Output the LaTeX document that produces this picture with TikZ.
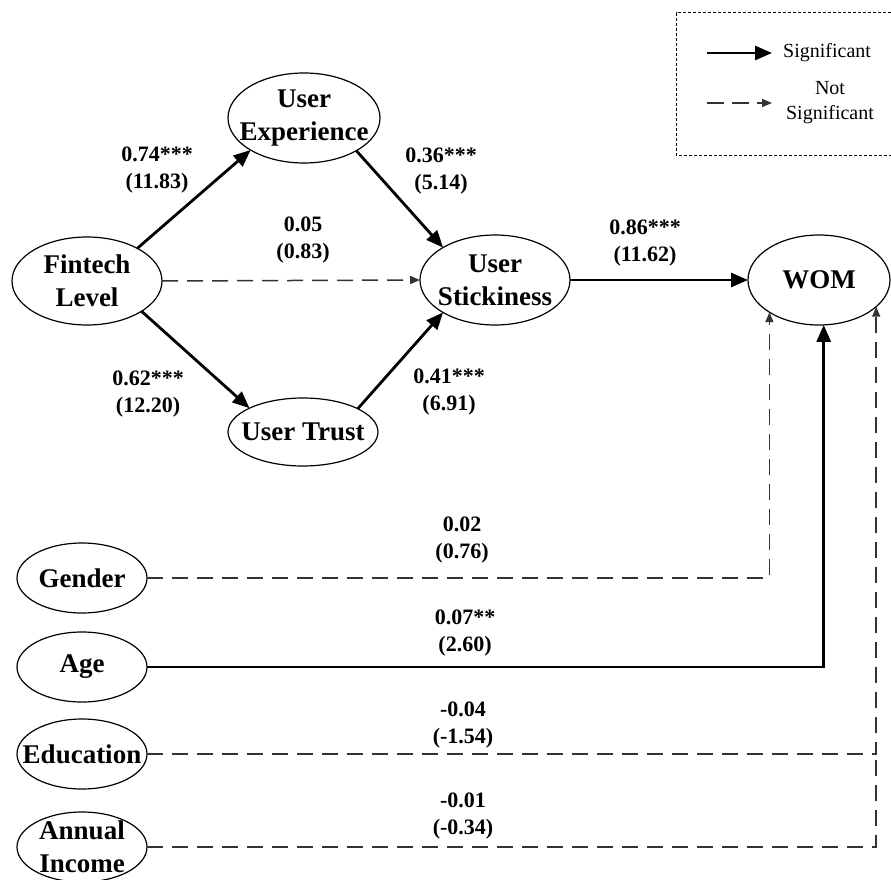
\documentclass[tikz,border=0pt]{standalone}
\usepackage{fontspec}
\setmainfont{Liberation Serif}
\usetikzlibrary{arrows.meta,shapes.geometric}
\begin{document}
\begin{tikzpicture}[x=1pt,y=-1pt,
  var/.style={ellipse, draw=black, line width=1.2pt, inner sep=0pt, outer sep=0pt},
  vtext/.style={font=\fontsize{27}{33}\selectfont\bfseries, align=center, inner sep=0pt},
  coef/.style={font=\fontsize{22}{26.5}\selectfont\bfseries, align=center, inner sep=0pt},
  legtext/.style={font=\fontsize{20}{25}\selectfont, align=center, inner sep=0pt},
  sig/.style={line width=2.8pt, -{Triangle[length=17pt,width=14pt]}},
  nsig/.style={line width=1.5pt, draw=black!80, dash pattern=on 16pt off 9pt, -{Triangle[length=10pt,width=8pt]}},
  nsigline/.style={line width=1.5pt, draw=black!80, dash pattern=on 16pt off 9pt},
  legbox/.style={line width=1pt, dash pattern=on 3pt off 2pt}
]
\useasboundingbox (0,0) rectangle (891,880);

% legend
\draw[legbox] (891,13) -- (676,13) -- (676,155) -- (891,155);
\coordinate (ls1) at (707,53);
\coordinate (le1) at (772,53);
\coordinate (ls2) at (707,103);
\coordinate (le2) at (772,103);
\draw[sig] (ls1) -- (le1);
\draw[nsig, dash pattern=on 17pt off 8pt] (ls2) -- (le2);
\node[legtext, anchor=west] (lsig) at (783,53) {Significant};
\node[legtext] (lnsig) at (830,103) {Not\\Significant};

% main nodes
\node[var, minimum width=150pt, minimum height=88pt,
      label={[vtext]center:{Fintech\\Level}}] (fin) at (87,281) {};
\node[var, minimum width=152pt, minimum height=90pt,
      label={[vtext]center:{User\\Experience}}] (ux) at (304,118) {};
\node[var, minimum width=150pt, minimum height=68pt,
      label={[vtext]center:{User Trust}}] (trust) at (303,432) {};
\node[var, minimum width=150pt, minimum height=90pt,
      label={[vtext]center:{User\\Stickiness}}] (stick) at (495,280) {};
\node[var, minimum width=142pt, minimum height=90pt,
      label={[vtext]center:{WOM}}] (wom) at (819,280) {};

\node[var, minimum width=130pt, minimum height=70pt,
      label={[vtext]center:{Gender}}] (gender) at (82,578) {};
\node[var, minimum width=130pt, minimum height=70pt,
      label={[vtext]center:{Age}}] (age) at (82,667) {};
\node[var, minimum width=130pt, minimum height=70pt,
      label={[vtext]center:{Education}}] (edu) at (82,754) {};
\node[var, minimum width=130pt, minimum height=70pt,
      label={[vtext]center:{Annual\\Income}}] (inc) at (82,847) {};

% structural paths
\draw[sig] (fin.33) -- (ux.211);
\draw[sig] (ux.328) -- (stick.148);
\draw[sig] (fin.331) -- (trust.156);
\draw[sig] (trust.23) -- (stick.212);
\draw[nsig] (fin.east) -- (stick.west);
\draw[sig] (stick.east) -- (wom.west);

% control variables
\draw[nsig] (gender.east) -| (wom.213.6);
\draw[sig] (age.east) -| (wom.276.4);
\draw[nsig] (edu.east) -| (wom.335.9);
\coordinate (join) at (wom.335.9 |- edu.east);
\draw[nsigline] (inc.east) -| (join);

% coefficients
\node[coef] (c1) at (157,170) {0.74***\\(11.83)};
\node[coef] (c2) at (303,240) {0.05\\(0.83)};
\node[coef] (c3) at (148,394) {0.62***\\(12.20)};
\node[coef] (c4) at (441,171) {0.36***\\(5.14)};
\node[coef] (c5) at (449,392) {0.41***\\(6.91)};
\node[coef] (c6) at (645,243) {0.86***\\(11.62)};
\node[coef] (c7) at (462,540) {0.02\\(0.76)};
\node[coef] (c8) at (465,633) {0.07**\\(2.60)};
\node[coef] (c9) at (463,725) {-0.04\\(-1.54)};
\node[coef] (c10) at (463,816) {-0.01\\(-0.34)};
\end{tikzpicture}
\end{document}
